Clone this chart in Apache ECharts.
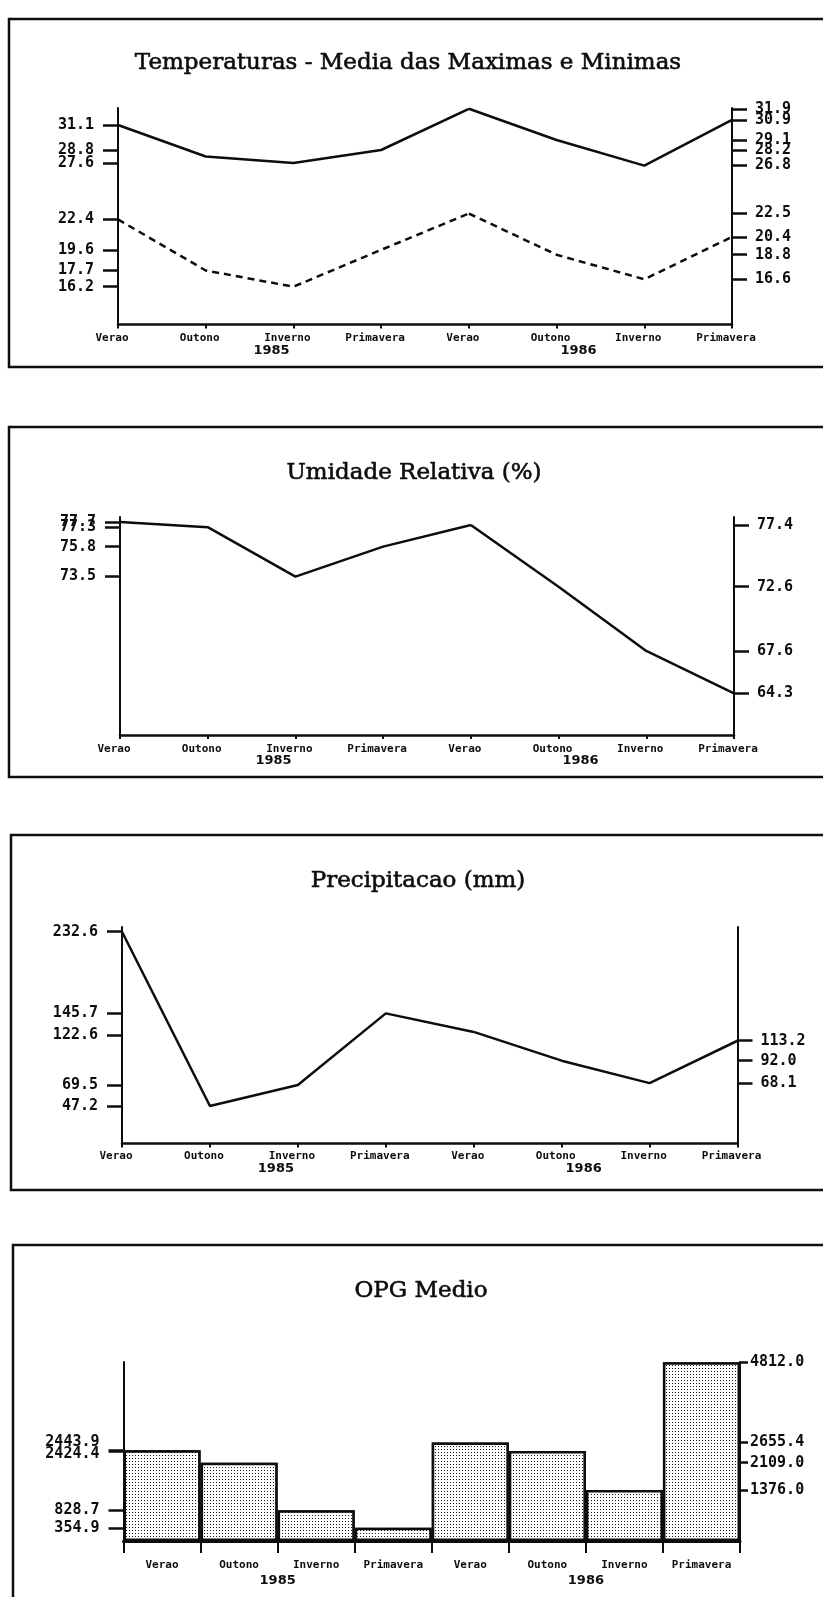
<!DOCTYPE html>
<html>
<head>
<meta charset="utf-8">
<script src="https://cdn.jsdelivr.net/npm/echarts@6/dist/echarts.min.js"></script>
<style>
  html, body { margin: 0; padding: 0; background: #fff; }
  #chart { width: 823px; height: 1597px; }
</style>
</head>
<body>
<div id="chart"></div>
<script>
// ---------------- DATA ----------------
const categories = ['Verao', 'Outono', 'Inverno', 'Primavera', 'Verao', 'Outono', 'Inverno', 'Primavera'];
const years = ['1985', '1986'];

const titles = [
  'Temperaturas - Media das Maximas e Minimas',
  'Umidade Relativa (%)',
  'Precipitacao (mm)',
  'OPG Medio'
];

// Temperatures (max solid, min dashed)
const tempMax1985 = [31.1, 28.2, 27.6, 28.8];
const tempMax1986 = [31.9, 29.1, 26.8, 30.9];
const tempMin1985 = [22.4, 17.7, 16.2, 19.6];
const tempMin1986 = [22.5, 18.8, 16.6, 20.4];
const tempTicksLeft = [31.1, 28.8, 27.6, 22.4, 19.6, 17.7, 16.2];
const tempTicksRight = [31.9, 30.9, 29.1, 28.2, 26.8, 22.5, 20.4, 18.8, 16.6];

// Relative humidity
const humid1985 = [77.7, 77.3, 73.5, 75.8];
const humid1986 = [77.4, 72.6, 67.6, 64.3];
const humidTicksLeft = [77.7, 77.3, 75.8, 73.5];
const humidTicksRight = [77.4, 72.6, 67.6, 64.3];

// Precipitation
const precip1985 = [232.6, 47.2, 69.5, 145.7];
const precip1986 = [122.6, 92.0, 68.1, 113.2];
const precipTicksLeft = [232.6, 145.7, 122.6, 69.5, 47.2];
const precipTicksRight = [113.2, 92.0, 68.1];

// OPG medio
const opg1985 = [2443.9, 2109.0, 828.7, 354.9];
const opg1986 = [2655.4, 2424.4, 1376.0, 4812.0];
const opgTicksLeft = [2443.9, 2424.4, 828.7, 354.9];
const opgTicksRight = [4812.0, 2655.4, 2109.0, 1376.0];

// ---------------- LAYOUT ----------------
const W = 823, H = 1597;
const panels = [
  { frame: [9, 19, 348],  grid: { left: 118, right: 91, top: 108, bottom: 1272.5 },
    L: { min: 12.72, max: 32.67 }, R: { min: 12.54, max: 31.97 }, title: [408, 65],
    catMargin: 8.5, yearMargin: 19.5, labelShift: 12, marginL: 24, marginR: 23, tickR: 15, bar: false },
  { frame: [9, 427, 350], grid: { left: 120, right: 89, top: 517, bottom: 862 },
    L: { min: 61.32, max: 78.08 }, R: { min: 61.06, max: 78.02 }, title: [414, 475],
    catMargin: 8.5, yearMargin: 19.5, labelShift: 12, marginL: 24, marginR: 23, tickR: 15, bar: false },
  { frame: [11, 835, 355], grid: { left: 122, right: 85.5, top: 927, bottom: 453.5 },
    L: { min: 7.3, max: 237.6 }, R: { min: 3.9, max: 234.2 }, title: [418, 883],
    catMargin: 7.5, yearMargin: 19, labelShift: 12, marginL: 24, marginR: 23, tickR: 15, bar: false },
  { frame: [13, 1245, 420], grid: { left: 123.5, right: 83, top: 1362, bottom: 56 },
    L: { min: 0, max: 4820 }, R: { min: 0, max: 4820 }, title: [421, 1293],
    catMargin: 19, yearMargin: 33, labelShift: 0, marginL: 24, marginR: 10, tickR: 8, bar: true }
];

const INK = '#0d0d0d';
const tickFont = { fontFamily: 'DejaVu Sans Mono', fontWeight: 'bold', fontSize: 15, color: INK };
const catFont = { fontFamily: 'DejaVu Sans Mono', fontWeight: 'bold', fontSize: 11, color: INK };
const yearFont = { fontFamily: 'DejaVu Sans', fontWeight: 'bold', fontSize: 13, color: INK };

function labelFormatter(list, range) {
  return function (v) {
    const s = Number(v).toFixed(1);
    const close = list.some(o => o > v && (o - v) < 0.01 * range);
    const closeBelow = list.some(o => o < v && (v - o) < 0.01 * range);
    if (closeBelow) return '{up|' + s + '}';
    if (close) return '{dn|' + s + '}';
    return s;
  };
}

// interleave the label order so the library's min/max overlap check
// (first vs second, last vs second-to-last) never hides a label
function interleave(list) {
  const s = list.slice().sort((a, b) => b - a);
  const ev = s.filter((_, i) => i % 2 === 0);
  const od = s.filter((_, i) => i % 2 === 1);
  return ev.concat(od);
}

function toLeft(v, L, R) {
  return L.min + (v - R.min) / (R.max - R.min) * (L.max - L.min);
}

const grids = [], xAxes = [], yAxes = [], series = [], titleOpts = [], graphics = [];
const tickLists = [
  [tempTicksLeft, tempTicksRight],
  [humidTicksLeft, humidTicksRight],
  [precipTicksLeft, precipTicksRight],
  [opgTicksLeft, opgTicksRight]
];

panels.forEach((p, g) => {
  grids.push(Object.assign({ containLabel: false, outerBoundsMode: 'none' }, p.grid));
  graphics.push({
    type: 'rect', silent: true,
    shape: { x: p.frame[0], y: p.frame[1], width: W + 20, height: p.frame[2] },
    style: { fill: null, stroke: INK, lineWidth: 2.5 }
  });
  titleOpts.push({
    text: titles[g], left: p.title[0], top: p.title[1] - 13, textAlign: 'center', padding: 0,
    textStyle: { fontFamily: 'DejaVu Serif', fontSize: 23, fontWeight: 'normal', color: INK,
                 textBorderColor: INK, textBorderWidth: 0.6 }
  });
  // category axis
  xAxes.push({
    type: 'category', gridIndex: g, position: 'bottom', data: categories,
    boundaryGap: p.bar,
    axisLine: { show: true, lineStyle: { color: INK, width: p.bar ? 3 : 2.5 } },
    axisTick: { show: true, inside: false, length: p.bar ? 12 : 4, alignWithLabel: false, lineStyle: { color: INK, width: 2 } },
    axisLabel: Object.assign({ margin: p.catMargin, interval: 0, padding: [0, p.labelShift, 0, 0],
                               showMinLabel: true, showMaxLabel: true }, catFont),
    splitLine: { show: false }
  });
  // year axis
  xAxes.push({
    type: 'category', gridIndex: g, position: 'bottom', data: years, boundaryGap: true,
    axisLine: { show: false }, axisTick: { show: false },
    axisLabel: Object.assign({ margin: p.yearMargin, interval: 0 }, yearFont),
    splitLine: { show: false }
  });
  const [tl, tr] = tickLists[g];
  const mk = (pos, rng, ticks, margin, tickLen) => {
    const ordered = interleave(ticks);
    return {
      type: 'value', gridIndex: g, position: pos, min: rng.min, max: rng.max,
      axisLine: { show: true, lineStyle: { color: INK, width: 2 } },
      axisTick: { show: true, length: tickLen, customValues: ordered, lineStyle: { color: INK, width: 2.5 } },
      axisLabel: Object.assign({
        customValues: ordered, margin: margin, hideOverlap: false,
        showMinLabel: true, showMaxLabel: true,
        formatter: labelFormatter(ticks, rng.max - rng.min),
        rich: {
          up: Object.assign({ padding: [0, 0, 16, 0] }, tickFont),
          dn: Object.assign({ padding: [6, 0, 0, 0] }, tickFont)
        }
      }, tickFont),
      splitLine: { show: false }
    };
  };
  yAxes.push(mk('left', p.L, tl, p.marginL, 15));
  yAxes.push(mk('right', p.R, tr, p.marginR, p.tickR));
});

// line helpers: 1985 on left axis (bridged to 1986 start), 1986 on right axis
function addLine(g, v85, v86, dashed) {
  const p = panels[g];
  const lineStyle = { color: INK, width: 2.5, type: dashed ? [7, 5] : 'solid' };
  const a = v85.slice();
  a.push(toLeft(v86[0], p.L, p.R));
  while (a.length < categories.length) a.push(null);
  const b = [null, null, null, null].concat(v86);
  series.push({ type: 'line', xAxisIndex: 2 * g, yAxisIndex: 2 * g, data: a, showSymbol: false, symbol: 'none',
    lineStyle, connectNulls: false, silent: true, animation: false });
  series.push({ type: 'line', xAxisIndex: 2 * g, yAxisIndex: 2 * g + 1, data: b, showSymbol: false, symbol: 'none',
    lineStyle, connectNulls: false, silent: true, animation: false });
}
addLine(0, tempMax1985, tempMax1986, false);
addLine(0, tempMin1985, tempMin1986, true);
addLine(1, humid1985, humid1986, false);
addLine(2, precip1985, precip1986, false);

const barStyle = {
  color: '#ffffff', borderColor: INK, borderWidth: 2.5,
  decal: { symbol: 'rect', symbolSize: 1, color: '#1a1a1a', backgroundColor: '#ffffff',
           dashArrayX: [1, 2], dashArrayY: [1, 2], rotation: 0 }
};
series.push({ type: 'bar', xAxisIndex: 6, yAxisIndex: 6, data: opg1985.concat([null, null, null, null]),
  barGap: '-100%', barCategoryGap: '0%', itemStyle: barStyle, silent: true, animation: false });
series.push({ type: 'bar', xAxisIndex: 6, yAxisIndex: 7, data: [null, null, null, null].concat(opg1986),
  barGap: '-100%', barCategoryGap: '0%', itemStyle: barStyle, silent: true, animation: false });

const chart = echarts.init(document.getElementById('chart'), null, { renderer: 'canvas', width: W, height: H });
chart.setOption({
  backgroundColor: '#ffffff',
  animation: false,
  title: titleOpts,
  grid: grids,
  xAxis: xAxes,
  yAxis: yAxes,
  series: series,
  graphic: graphics
});
</script>
</body>
</html>
